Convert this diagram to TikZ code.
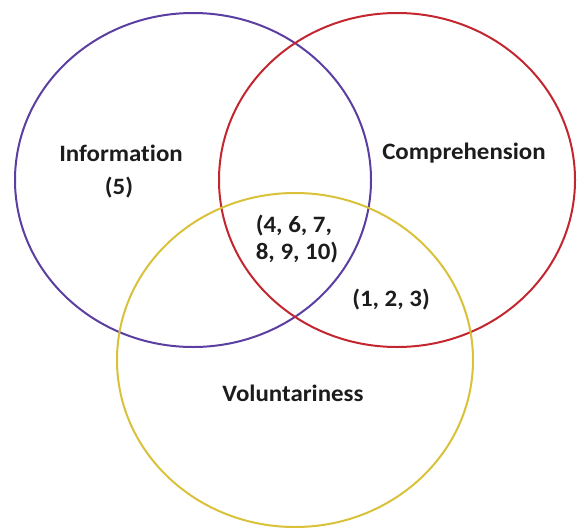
\documentclass[tikz,border=0pt]{standalone}
\usepackage{fontspec}
\setmainfont{Carlito}[Ligatures={NoCommon}]
\usetikzlibrary{shapes.geometric}
\definecolor{infocol}{HTML}{5A3EA2}
\definecolor{compcol}{HTML}{C3262F}
\definecolor{volcol}{HTML}{D9C13A}
\definecolor{txtcol}{HTML}{1C1C1C}
\tikzset{
  setring/.style={ellipse, draw=#1, line width=2pt, minimum width=356pt, minimum height=334pt, inner sep=0pt},
  lbl/.style={font=\fontsize{23.5}{27}\selectfont\bfseries, text=txtcol, inner sep=0pt}
}
\newcommand{\wx}[1]{\scalebox{1.06}[1]{#1}}
\begin{document}
\begin{tikzpicture}[x=1pt,y=-1pt]
\useasboundingbox (0,0) rectangle (577,527);
\node[setring=infocol] (info) at (193,180) {};
\node[setring=compcol] (comp) at (397,180) {};
\node[setring=volcol] (vol) at (295,360) {};
\node[lbl] (tinfo) at (121,153) {\wx{Information}};
\node[lbl] (tfive) at (119,188) {\wx{(5)}};
\node[lbl] (tcomp) at (464,153) {\wx{Comprehension}};
\node[lbl, align=left] (tcenter) at (297,239) {\wx{(4, 6, 7,}\\\wx{8, 9, 10)}};
\node[lbl] (tpair) at (391,300) {\wx{(1, 2, 3)}};
\node[lbl] (tvol) at (293,393) {\wx{Voluntariness}};
\end{tikzpicture}
\end{document}
